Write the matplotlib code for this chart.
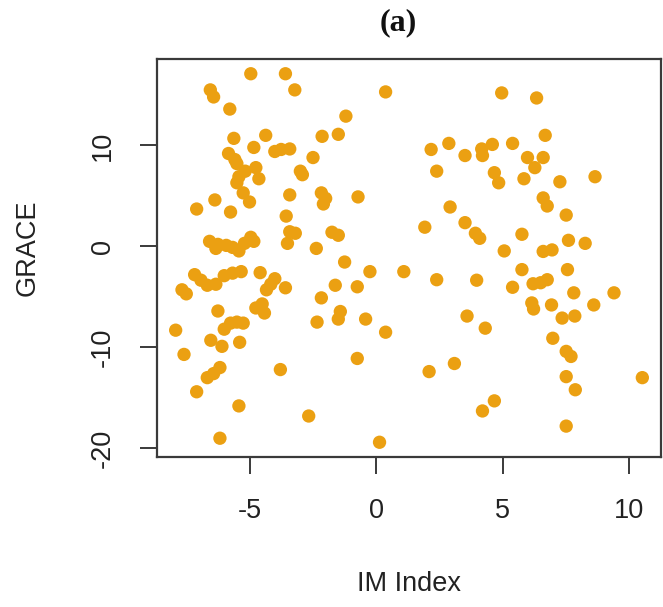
import matplotlib
matplotlib.use("Agg")
import matplotlib.pyplot as plt

plt.rcParams["axes.unicode_minus"] = False
plt.rcParams["font.family"] = ["Liberation Sans", "DejaVu Sans"]

# IM index vs GRACE anomaly
im_index = [
    -4.96, -3.59, -3.22, 0.37, -6.56, -6.43, -5.79, -1.2, -4.37, -2.14,
    -1.5, -5.63, -4.84, -5.84, -5.59, -5.51, -5.18, -5.43, -5.51, -5.26,
    -5.01, -4.76, -4.64, -4.01, -3.76, -3.42, -3.0, -2.92, -2.5, -3.42,
    -2.17, -2.0, -2.09, -3.56, -3.42, -3.2, -3.51, -0.72, -5.76, -7.1,
    -6.38, -6.59, -6.34, -6.26, -5.93, -5.68, -5.43, -5.21, -4.96, -4.84,
    -7.18, -6.93, -6.68, -6.34, -6.01, -5.68, -5.34, -7.51, -7.68, -4.59,
    -4.01, -4.17, -4.34, -4.51, -4.76, -4.42, -3.59, -6.26, -5.76, -5.51,
    -5.26, -6.01, -6.54, -6.1, -5.4, -7.93, -7.6, -6.18, -6.43, -6.68,
    -7.1, -3.79, -5.43, -6.18, -2.67, -2.37, -1.75, -1.5, -1.25, -1.62,
    -2.17, -1.42, -1.5, -2.34, -0.75, -0.25, -0.42, 0.37, -0.75, 0.13,
    1.09,
    4.96, 6.34, 6.68, 2.17, 2.87, 3.51, 4.17, 4.2, 4.59, 5.39,
    5.98, 6.6, 6.27, 5.84, 7.26, 8.65, 4.67, 4.84, 2.39, 2.92,
    3.51, 3.92, 4.09, 1.92, 5.76, 5.06, 6.6, 6.76, 7.51, 7.6,
    8.26, 6.6, 6.95, 7.56, 5.76, 5.39, 6.2, 6.5, 6.76, 7.81,
    9.4, 6.15, 6.22, 6.93, 8.6, 7.35, 7.85, 3.97, 2.39, 3.59,
    4.31, 6.98, 7.51, 7.7, 7.51, 7.87, 10.52, 7.51, 4.2, 4.67,
    3.09, 2.09,
]
grace = [
    17.1, 17.1, 15.5, 15.3, 15.5, 14.8, 13.6, 12.9, 11.0, 10.9,
    11.1, 10.7, 9.8, 9.2, 8.6, 8.2, 7.45, 6.9, 6.3, 5.3,
    4.4, 7.8, 6.7, 9.4, 9.6, 9.65, 7.45, 7.1, 8.8, 5.1,
    5.3, 4.75, 4.2, 3.0, 1.45, 1.3, 0.3, 4.9, 3.4, 3.7,
    4.6, 0.5, -0.2, 0.2, 0.1, -0.1, -0.45, 0.3, 0.9, 0.5,
    -2.8, -3.35, -3.85, -3.75, -2.9, -2.65, -2.5, -4.7, -4.3, -2.6,
    -3.2, -3.75, -4.3, -5.7, -6.1, -6.6, -4.1, -6.4, -7.6, -7.5,
    -7.6, -8.2, -9.3, -9.9, -9.5, -8.3, -10.7, -12.0, -12.6, -13.0,
    -14.4, -12.2, -15.8, -19.0, -16.8, -0.2, 1.4, 1.1, -1.55, -3.85,
    -5.1, -6.45, -7.2, -7.5, -4.0, -2.5, -7.2, -8.5, -11.1, -19.4,
    -2.5,
    15.2, 14.7, 11.0, 9.6, 10.2, 9.0, 9.65, 9.0, 10.1, 10.2,
    8.8, 8.8, 7.8, 6.7, 6.4, 6.9, 7.3, 6.3, 7.45, 3.9,
    2.35, 1.3, 0.8, 1.9, 1.2, -0.45, 4.8, 4.0, 3.1, 0.6,
    0.3, -0.5, -0.35, -2.3, -2.3, -4.05, -3.7, -3.6, -3.3, -4.6,
    -4.6, -5.6, -6.2, -5.8, -5.8, -7.1, -6.9, -3.35, -3.3, -6.9,
    -8.1, -9.1, -10.4, -10.9, -12.9, -14.2, -13.0, -17.8, -16.3, -15.3,
    -11.6, -12.4,
]

x_ticks = [-5, 0, 5, 10]
y_ticks = [-20, -10, 0, 10]
x_tick_labels = ["-5", "0", "5", "10"]
y_tick_labels = ["-20", "-10", "0", "10"]

W, H = 663, 607
fig = plt.figure(figsize=(W / 100, H / 100), dpi=100)
left, right, top, bottom = 157, 661, 59, 457
ax = fig.add_axes([left / W, 1 - bottom / H, (right - left) / W, (bottom - top) / H])

ax.scatter(im_index, grace, s=92, color="#EBA012", edgecolors="none", zorder=3)

# 4% padding on each side, as R does by default
xmin, xmax = min(im_index), max(im_index)
ymin, ymax = min(grace), max(grace)
dx, dy = 0.04 * (xmax - xmin), 0.04 * (ymax - ymin)
ax.set_xlim(xmin - dx, xmax + dx)
ax.set_ylim(ymin - dy, ymax + dy)

ax.set_xticks(x_ticks)
ax.set_xticklabels(x_tick_labels)
ax.set_yticks(y_ticks)
ax.set_yticklabels(y_tick_labels, rotation=90, va="center")

for s in ax.spines.values():
    s.set_linewidth(1.6)
    s.set_color("#3a3a3a")

ax.tick_params(axis="both", direction="out", length=12.5, width=1.4,
               color="#3a3a3a", labelsize=19.5, labelcolor="#222222")
ax.tick_params(axis="x", pad=17)
ax.tick_params(axis="y", pad=17)

fig.text(409 / W, 1 - 584 / H, "IM Index", ha="center", va="center",
         fontsize=19.5, color="#222222")
fig.text(28 / W, 1 - 248 / H, "GRACE", ha="center", va="center",
         rotation=90, fontsize=19.5, color="#222222")
fig.text(398 / W, 1 - 23 / H, "(a)", ha="center", va="center",
         fontsize=23, fontweight="bold", family="Liberation Serif", color="#111111")

fig.savefig("out.png", dpi=100)
